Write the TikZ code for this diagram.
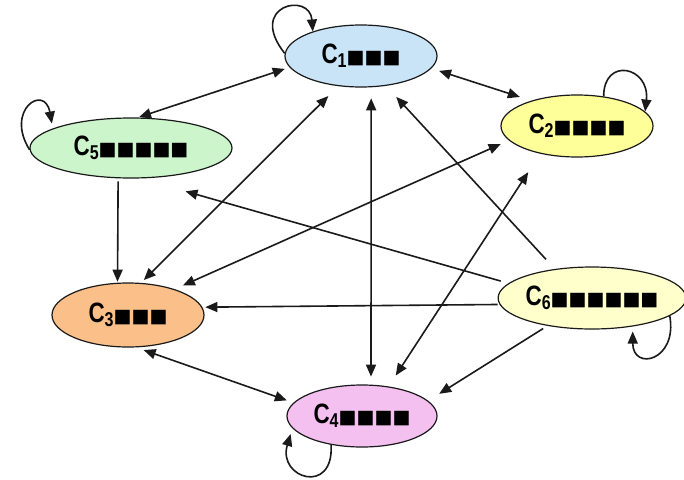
\documentclass[tikz,border=0pt]{standalone}
\usepackage{fontspec}
\usetikzlibrary{arrows.meta,shapes.geometric}
\newfontfamily\lblC[FakeStretch=0.8]{Liberation Sans}
\newfontfamily\sqfont{DejaVu Sans}
\newcommand\nodelbl[2]{{\lblC\bfseries\fontsize{28}{28}\selectfont C}\raisebox{-4pt}{\lblC\bfseries\fontsize{20}{20}\selectfont #1}{\sqfont\fontsize{19}{19}\selectfont #2}}
\definecolor{fillA}{HTML}{C9E3F7}
\definecolor{fillB}{HTML}{FFFF99}
\definecolor{fillC}{HTML}{FBC08A}
\definecolor{fillD}{HTML}{F4C0F0}
\definecolor{fillE}{HTML}{CCF5CC}
\definecolor{fillF}{HTML}{FFFFCC}
\definecolor{linecol}{HTML}{1A1A1A}
\tikzset{
  ell/.style={ellipse, draw=linecol, line width=1.2pt, inner sep=0pt},
  tipA/.tip={Triangle[length=12pt,width=10pt]},
  conn/.style={draw=linecol, line width=1.6pt, -tipA},
  dconn/.style={draw=linecol, line width=1.6pt, tipA-tipA}
}
\begin{document}
\begin{tikzpicture}[x=1pt,y=1pt]
\useasboundingbox[fill=white] (0,0) rectangle (684,-479);
\node[ell, fill=fillA, minimum width=152pt, minimum height=62pt] (c1) at (361,-56) {\nodelbl{1}{■■■}};
\node[ell, fill=fillB, minimum width=152pt, minimum height=62pt] (c2) at (577,-126) {\nodelbl{2}{■■■■}};
\node[ell, fill=fillC, minimum width=152pt, minimum height=64pt] (c3) at (128,-315) {\nodelbl{3}{■■■}};
\node[ell, fill=fillD, minimum width=150pt, minimum height=62pt] (c4) at (362,-416) {\nodelbl{4}{■■■■}};
\node[ell, fill=fillE, minimum width=202pt, minimum height=60pt] (c5) at (131,-148) {\nodelbl{5}{■■■■■}};
\node[ell, fill=fillF, minimum width=182pt, minimum height=62pt] (c6) at (592,-298) {\nodelbl{6}{■■■■■■}};
% connectors
\draw[dconn, shorten <=5pt, shorten >=1pt] (c1.189) -- (c5.77);
\draw[dconn, shorten <=8pt, shorten >=12pt] (c1.-10) -- (c2.151);
\draw[dconn, shorten <=11pt, shorten >=8pt] (c1.-72) -- (c4.74);
\draw[dconn, shorten <=14pt, shorten >=4pt] (c1.233) -- (c3.68);
\draw[conn, shorten <=13pt, shorten >=15pt] (c6.142) -- (c1.-50);
\draw[dconn, shorten <=9pt, shorten >=9pt] (c2.192) -- (c3.29);
\draw[dconn, shorten <=22pt, shorten >=13pt] (c2.217) -- (c4.48);
\draw[conn, shorten <=3pt, shorten >=1pt] (c5.247) -- (c3.108);
\draw[conn, shorten <=8pt, shorten >=47pt] (c6.170) -- (c5.-73);
\draw[conn, shorten <=2pt, shorten >=3pt] (c6.184) -- (c3.6);
\draw[conn, shorten <=5pt, shorten >=13pt] (c6.212) -- (c4.13);
\draw[dconn, shorten <=8pt, shorten >=7pt] (c3.-76) -- (c4.169);
% self loops
\draw[conn] (c1.178) .. controls +(-38,48) and +(-3,40) .. (c1.153);
\draw[conn, shorten >=5pt] (c5.181) .. controls +(-25,40) and +(-8,45) .. (c5.166);
\draw[conn] (c2.48) .. controls +(0,40) and +(5,45) .. (c2.12);
\draw[conn, shorten >=5pt] (c6.347) .. controls +(8,-45) and +(0,-45) .. (c6.325);
\draw[conn, shorten >=6pt] (c4.223) .. controls +(3,-51) and +(-15,-50) .. (c4.190);
\end{tikzpicture}
\end{document}
